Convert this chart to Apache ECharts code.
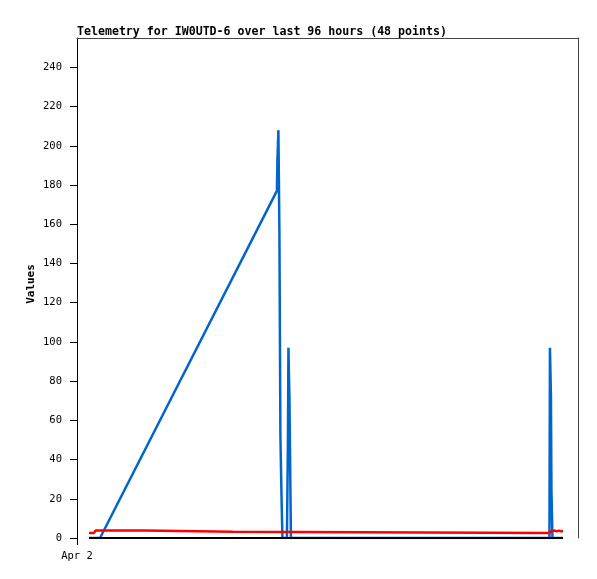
<!DOCTYPE html>
<html>
<head>
<meta charset="utf-8">
<script src="https://cdn.jsdelivr.net/npm/echarts@6/dist/echarts.min.js"></script>
<style>html,body{margin:0;padding:0;background:#fff;}#c{width:597px;height:579px;}</style>
</head>
<body>
<div id="c"></div>
<script>
// hours since Apr 2 00:00
const blueTimes  = [2.4, 4.6, 39.9, 40.0, 40.2, 40.4, 40.6, 40.8, 41.0, 41.9, 42.1, 42.2, 42.4, 42.6, 42.7, 94.3, 94.4, 94.6, 94.7, 94.9, 97.0];
const blueValues = [0,   0,   177,  192,  208,  156,  52,   24,   0,    0,    49,   97,   72,   24,   0,    0,    97,   72,   24,   0,    0];
const redTimes   = [2.4, 3.4, 3.7, 13.4, 13.6, 31.1, 31.3, 94.2, 94.6, 95.4, 95.8, 96.2, 96.6, 97.0];
const redValues  = [2.6, 2.6, 3.8, 3.8,  3.2,  3.2,  2.6,  2.6,  3.4,  3.8,  3.4,  3.8,  3.4,  3.4];
const blackTimes = [2.4, 97.0];
const blackValues= [0,   0];
const yTicks = [0, 20, 40, 60, 80, 100, 120, 140, 160, 180, 200, 220, 240];
const xLabel = 'Apr 2';

const pair = (t, v) => t.map((x, i) => [x, v[i]]);
const mono = '"DejaVu Sans Mono", monospace';
const chart = echarts.init(document.getElementById('c'));
chart.setOption({
  animation: false,
  backgroundColor: '#fff',
  title: {
    text: 'Telemetry for IW0UTD-6 over last 96 hours (48 points)',
    left: 72, top: 21,
    textStyle: { fontFamily: mono, fontSize: 11.6, fontWeight: 'bold', color: '#000' }
  },
  grid: { left: 77, right: 19, top: 38, bottom: 41, containLabel: false },
  xAxis: [{
    type: 'value', min: 0, max: 100, position: 'bottom',
    axisLine: { show: false },
    splitLine: { show: false },
    axisTick: { show: true, length: 7, customValues: [0], lineStyle: { color: '#000' } },
    axisLabel: { customValues: [0], formatter: () => xLabel, margin: 13,
      fontFamily: mono, fontSize: 10.5, color: '#000' }
  }, {
    type: 'value', min: 0, max: 100, position: 'top',
    axisLine: { show: true, onZero: false, lineStyle: { color: '#444', width: 1 } },
    axisTick: { show: false }, axisLabel: { show: false }, splitLine: { show: false }
  }],
  yAxis: [{
    type: 'value', min: 0, max: 255, interval: 20,
    name: 'Values', nameLocation: 'middle', nameGap: 40, nameRotate: 90, nameMoveOverlap: false,
    nameTextStyle: { fontFamily: mono, fontSize: 11, fontWeight: 'bold', color: '#000', padding: [0, 0, 0, 8] },
    axisLine: { show: true, onZero: false, lineStyle: { color: '#000', width: 1 } },
    axisTick: { show: true, length: 7, customValues: yTicks, lineStyle: { color: '#000' } },
    axisLabel: { customValues: yTicks, margin: 15, fontFamily: mono, fontSize: 10.5, color: '#000' },
    splitLine: { show: false }
  }, {
    type: 'value', min: 0, max: 255, position: 'right',
    axisLine: { show: true, onZero: false, lineStyle: { color: '#444', width: 1 } },
    axisTick: { show: false }, axisLabel: { show: false }, splitLine: { show: false }
  }],
  series: [{
    type: 'line', data: pair(blueTimes, blueValues), showSymbol: false,
    lineStyle: { color: '#0066cc', width: 2.5 }, z: 2
  }, {
    type: 'line', data: pair(redTimes, redValues), showSymbol: false,
    lineStyle: { color: '#ff0000', width: 2.5 }, z: 3
  }, {
    type: 'line', data: pair(blackTimes, blackValues), showSymbol: false,
    lineStyle: { color: '#000000', width: 2 }, z: 4
  }]
});
</script>
</body>
</html>
